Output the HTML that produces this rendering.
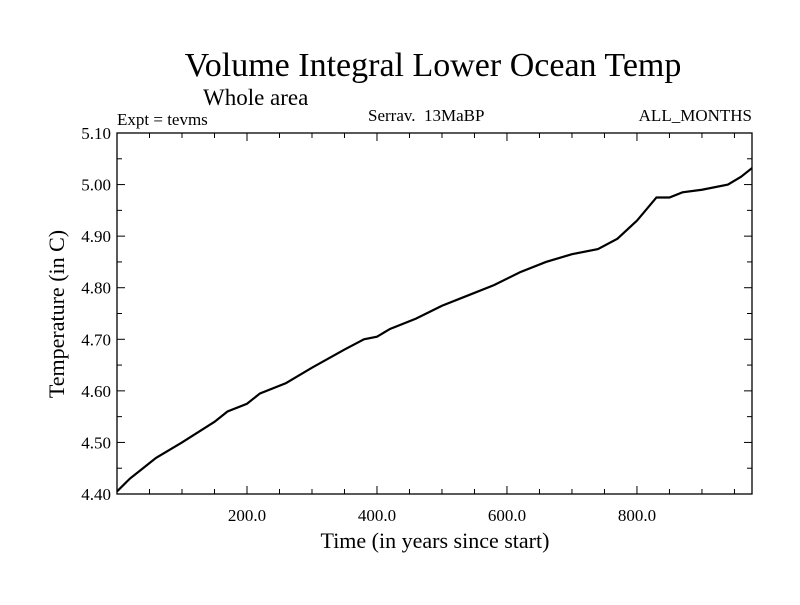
<!DOCTYPE html>
<html><head><meta charset="utf-8"><style>
body{margin:0;background:#fff}
svg text{font-family:"Liberation Serif",serif;fill:#000}
</style></head><body>
<svg id="chart" width="800" height="600" xmlns="http://www.w3.org/2000/svg">
<text x="433" y="76" font-size="34" text-anchor="middle">Volume Integral Lower Ocean Temp</text>
<text x="203" y="105" font-size="23">Whole area</text>
<text x="117" y="125" font-size="17">Expt = tevms</text>
<text x="368" y="121" font-size="17">Serrav.&#160;&#160;13MaBP</text>
<text x="752" y="121" font-size="17" text-anchor="end">ALL_MONTHS</text>
<text transform="translate(64,314) rotate(-90)" font-size="22" text-anchor="middle">Temperature (in C)</text>
<text x="435" y="548" font-size="22" text-anchor="middle">Time (in years since start)</text>
<g id="axes"></g>
</svg>
<script>
const years=[0,20,40,60,80,100,150,170,200,220,260,300,350,380,400,420,460,500,540,580,620,660,700,740,770,800,830,850,870,900,940,960,977];
const temps=[4.405,4.43,4.45,4.47,4.485,4.50,4.54,4.56,4.575,4.595,4.615,4.645,4.68,4.70,4.705,4.72,4.74,4.765,4.785,4.805,4.83,4.85,4.865,4.875,4.895,4.93,4.975,4.975,4.985,4.99,5.0,5.015,5.032];
const xTicks=[200,400,600,800];
const xTickLabels=["200.0","400.0","600.0","800.0"];
const yTicks=[4.4,4.5,4.6,4.7,4.8,4.9,5.0,5.1];
const yTickLabels=["4.40","4.50","4.60","4.70","4.80","4.90","5.00","5.10"];
const L=117,R=752,T=133,B=494,XMAX=977,YMIN=4.4,YMAX=5.1;
const sx=v=>L+(v/XMAX)*(R-L);
const sy=v=>B-(v-YMIN)/(YMAX-YMIN)*(B-T);
const g=document.getElementById('axes');
const NS="http://www.w3.org/2000/svg";
function mk(t,a){const e=document.createElementNS(NS,t);for(const k in a)e.setAttribute(k,a[k]);g.appendChild(e);return e;}
const frame=mk('rect',{x:L,y:T,width:R-L,height:B-T,fill:'none',stroke:'#000','stroke-width':1.3});


for(let v=50;v<XMAX;v+=50){const maj=v%200===0,len=maj?8:5;
 mk('line',{x1:sx(v),x2:sx(v),y1:B,y2:B-len,stroke:'#000'});
 mk('line',{x1:sx(v),x2:sx(v),y1:T,y2:T+len,stroke:'#000'});}
for(let i=0;i<=14;i++){const v=YMIN+i*0.05,maj=i%2===0,len=maj?8:5;
 mk('line',{x1:L,x2:L+len,y1:sy(v),y2:sy(v),stroke:'#000'});
 mk('line',{x1:R,x2:R-len,y1:sy(v),y2:sy(v),stroke:'#000'});}
xTicks.forEach((v,i)=>{const t=mk('text',{x:sx(v),y:B+27,'font-size':17,'text-anchor':'middle'});t.textContent=xTickLabels[i];
 
 });
yTicks.forEach((v,i)=>{const t=mk('text',{x:L-6,y:sy(v)+6,'font-size':17,'text-anchor':'end'});t.textContent=yTickLabels[i];
 
 });
const p=mk('polyline',{points:years.map((y,i)=>sx(y)+','+sy(temps[i])).join(' '),fill:'none',stroke:'#000','stroke-width':2.2});


</script>
</body></html>
